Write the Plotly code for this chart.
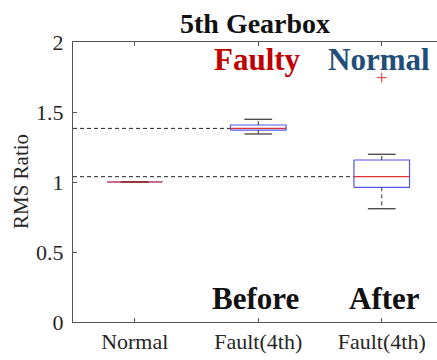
import plotly.graph_objects as go

# ---- data ----
categories = ["Normal", "Fault(4th)", "Fault(4th)"]
positions = [1, 2, 3]
q1 = [1.0, 1.371, 0.962]
median = [1.0, 1.383, 1.038]
q3 = [1.0, 1.407, 1.157]
lower = [1.0, 1.343, 0.809]
upper = [1.0, 1.448, 1.198]
outlier_x = [3]
outlier_y = [1.745]
ytick_vals = [0, 0.5, 1, 1.5, 2]
ytick_text = ["0", "0.5", "1", "1.5", "2"]

FONT = "Liberation Serif"
HALF = 0.225
BLUE = "rgb(85,85,235)"
RED = "rgb(225,50,50)"

fig = go.Figure()

# reference dashed lines at the medians of the fault boxes
for i in (1, 2):
    fig.add_trace(go.Scatter(
        x=[0.5, positions[i] - HALF], y=[median[i], median[i]], mode="lines",
        line=dict(color="#222222", width=1, dash="4px,3px"),
        hoverinfo="skip", showlegend=False))

for i, p in enumerate(positions):
    fig.add_trace(go.Scatter(
        x=[p - HALF, p + HALF, p + HALF, p - HALF, p - HALF],
        y=[q1[i], q1[i], q3[i], q3[i], q1[i]], mode="lines",
        line=dict(color=BLUE, width=1.2), showlegend=False, hoverinfo="skip"))
    fig.add_trace(go.Scatter(
        x=[p, p, None, p, p], y=[q3[i], upper[i], None, q1[i], lower[i]],
        mode="lines", line=dict(color="#333333", width=1, dash="4px,3px"),
        showlegend=False, hoverinfo="skip"))
    fig.add_trace(go.Scatter(
        x=[p - HALF / 2, p + HALF / 2, None, p - HALF / 2, p + HALF / 2],
        y=[upper[i], upper[i], None, lower[i], lower[i]],
        mode="lines", line=dict(color="#333333", width=1.2),
        showlegend=False, hoverinfo="skip"))
    fig.add_trace(go.Scatter(
        x=[p - HALF, p + HALF], y=[median[i], median[i]], mode="lines",
        line=dict(color=RED, width=1.2), showlegend=False, hoverinfo="skip"))

fig.add_trace(go.Scatter(
    x=outlier_x, y=outlier_y, mode="markers",
    marker=dict(symbol="cross-thin", size=7, line=dict(color=RED, width=1)),
    showlegend=False, hoverinfo="skip"))

annotations = [
    dict(text="<b>5th Gearbox</b>", xref="paper", yref="paper", x=0.5, y=1.0,
         yanchor="bottom", yshift=1, showarrow=False,
         font=dict(family=FONT, size=28, color="#111111")),
    dict(text="<b>Faulty</b>", xref="x", yref="y", x=1.99, y=1.875, showarrow=False,
         font=dict(family=FONT, size=31, color="rgb(192,0,0)")),
    dict(text="<b>Normal</b>", xref="x", yref="y", x=2.98, y=1.875, showarrow=False,
         font=dict(family=FONT, size=31, color="rgb(31,78,121)")),
    dict(text="<b>Before</b>", xref="x", yref="y", x=1.98, y=0.17, showarrow=False,
         font=dict(family=FONT, size=31, color="#111111")),
    dict(text="<b>After</b>", xref="x", yref="y", x=3.02, y=0.17, showarrow=False,
         font=dict(family=FONT, size=31, color="#111111")),
    dict(text="RMS Ratio", xref="paper", yref="paper", x=(21 - 73) / 364, y=0.5,
         xanchor="center", yanchor="middle", textangle=-90, showarrow=False,
         font=dict(family=FONT, size=21, color="#262626")),
]

fig.update_layout(
    width=437, height=360,
    margin=dict(l=73, r=0, t=42, b=38),
    paper_bgcolor="white", plot_bgcolor="white",
    font=dict(family=FONT, size=22, color="#262626"),
    annotations=annotations,
    xaxis=dict(range=[0.5, 0.5 + 364 / 123.5], tickvals=positions, ticktext=categories,
               showgrid=False, zeroline=False, showline=True, linecolor="#555555",
               linewidth=1, mirror="ticks", ticks="inside", ticklen=4,
               tickcolor="#555555", tickfont=dict(family=FONT, size=22, color="#262626")),
    yaxis=dict(range=[0, 2], tickvals=ytick_vals, ticktext=ytick_text,
               showgrid=False, zeroline=False, showline=True, linecolor="#555555",
               linewidth=1, ticks="inside", ticklen=4, tickcolor="#555555",
               ticklabelstandoff=4,
               tickfont=dict(family=FONT, size=22, color="#262626")),
)

fig.write_html("out.html")
